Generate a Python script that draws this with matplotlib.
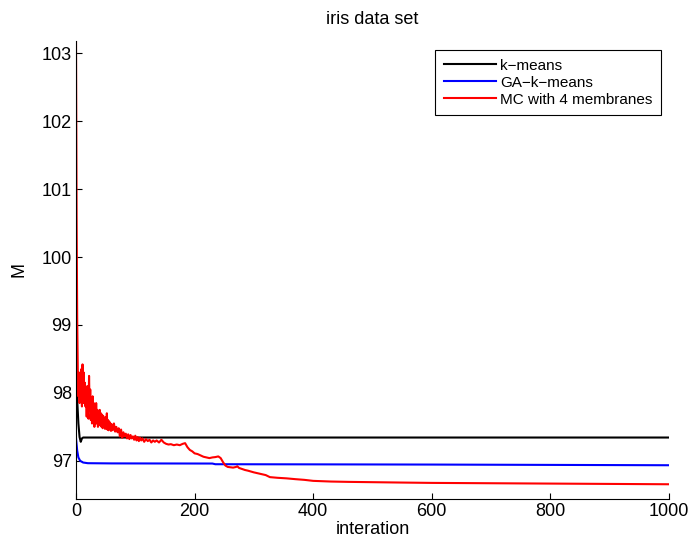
import numpy as np
import matplotlib.pyplot as plt

plt.rcParams['font.family'] = ['Liberation Sans', 'DejaVu Sans']

# k-means
km_x = [0, 2, 4, 6, 8, 10, 12, 1000]
km_y = [98.25, 97.9, 97.55, 97.35, 97.28, 97.33, 97.343, 97.343]

# GA-k-means
ga_x = [0, 2, 4, 7, 12, 20, 60, 230, 235, 400, 600, 800, 1000]
ga_y = [97.33, 97.15, 97.05, 97.0, 96.975, 96.965, 96.962, 96.96, 96.95,
        96.948, 96.945, 96.94, 96.935]

# MC with 4 membranes
mc_x = list(range(0, 61)) + [
    62, 64, 66, 68, 70, 72, 74, 76, 78, 80, 82, 84, 86, 88, 90, 92, 94, 96,
    98, 100, 102, 104, 106, 108, 110, 112, 115, 118, 121, 124, 127, 130, 133,
    136, 140, 144, 148, 152, 156, 160, 165, 170, 175, 180, 184, 188, 192, 196,
    200, 205, 210, 215, 220, 225, 230, 235, 240, 244, 248, 252, 256, 260, 265,
    270, 272, 275, 280, 285, 290, 300, 310, 320, 327, 340, 355, 370, 385, 400,
    430, 460, 500, 550, 600, 700, 800, 900, 1000]
mc_y = [
    103.18, 100.6, 99.1, 98.35, 97.95, 98.3, 97.85, 98.2, 97.95, 98.35,
    97.8, 98.42, 97.85, 98.3, 97.9, 98.15, 97.8, 98.05, 97.65, 98.1,
    97.7, 97.62, 98.25, 97.75, 98.05, 97.6, 97.9, 97.55, 97.95, 97.6,
    97.85, 97.5, 97.8, 97.55, 97.85, 97.55, 97.75, 97.5, 97.7, 97.55,
    97.75, 97.52, 97.7, 97.5, 97.68, 97.48, 97.66, 97.5, 97.62, 97.47,
    97.64, 97.48, 97.7, 97.46, 97.6, 97.45, 97.58, 97.47, 97.55, 97.44,
    97.54,
    97.45, 97.55, 97.43, 97.5, 97.42, 97.48, 97.36, 97.46, 97.34, 97.42,
    97.36, 97.4, 97.33, 97.39, 97.32, 97.38, 97.33, 97.36, 97.31, 97.37,
    97.3, 97.35, 97.29, 97.34, 97.3, 97.33, 97.28, 97.32, 97.29, 97.31,
    97.27, 97.3, 97.28, 97.3, 97.27, 97.31, 97.27, 97.25, 97.24, 97.245,
    97.23, 97.24, 97.23, 97.25, 97.26, 97.2, 97.16, 97.14, 97.11, 97.1,
    97.08, 97.06, 97.05, 97.04, 97.05, 97.055, 97.065, 97.04, 96.98, 96.93,
    96.91, 96.905, 96.9, 96.91, 96.92, 96.895, 96.88, 96.865, 96.855, 96.83,
    96.81, 96.79, 96.76, 96.75, 96.742, 96.73, 96.72, 96.705, 96.695, 96.69,
    96.685, 96.68, 96.675, 96.67, 96.665, 96.66, 96.655]

fig = plt.figure(figsize=(6.91, 5.47), dpi=100)
ax = fig.add_axes([0.110, 0.088, 0.858, 0.837])

ax.plot(km_x, km_y, color='black', lw=1.5, label='k\u2212means')
ax.plot(ga_x, ga_y, color='blue', lw=1.5, label='GA\u2212k\u2212means')
ax.plot(mc_x, mc_y, color='red', lw=1.5, label='MC with 4 membranes')

ax.set_xlim(0, 1000)
ax.set_ylim(96.44, 103.18)
ax.set_xticks([0, 200, 400, 600, 800, 1000])
ax.set_yticks([97, 98, 99, 100, 101, 102, 103])
ax.tick_params(direction='in', length=4, labelsize=13, width=0.8, pad=3)
ax.spines['top'].set_visible(False)
ax.spines['right'].set_visible(False)

ax.set_xlabel('interation', fontsize=13, labelpad=1)
ax.set_ylabel('M', fontsize=13, labelpad=10)
ax.set_title('iris data set', fontsize=13, pad=12)

leg = ax.legend(loc='upper right', fontsize=11, fancybox=False, framealpha=1,
                edgecolor='black', borderpad=0.55, handlelength=3.4,
                handletextpad=0.3, labelspacing=0.2, borderaxespad=0,
                bbox_to_anchor=(0.9865, 0.980))
leg.get_frame().set_linewidth(0.8)

fig.savefig('out.png', dpi=100)
